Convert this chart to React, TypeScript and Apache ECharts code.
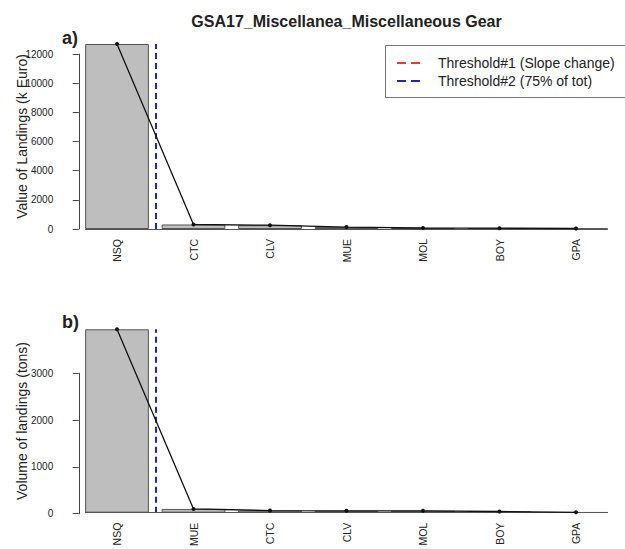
import React, { useEffect, useRef } from "react";
import * as echarts from "echarts";

const titleText = "GSA17_Miscellanea_Miscellaneous Gear";
const catsA = ["NSQ", "CTC", "CLV", "MUE", "MOL", "BOY", "GPA"];
const valsA = [12700, 310, 260, 130, 70, 55, 35];
const catsB = ["NSQ", "MUE", "CTC", "CLV", "MOL", "BOY", "GPA"];
const valsB = [3940, 80, 45, 40, 40, 25, 8];
const yTickStepA = 2000;
const yTickTopA = 12000;
const yTickStepB = 1000;
const yTickTopB = 3000;
// number of species reaching 75% of total (threshold #2 drawn after them)
const thr2CountA = 1;
const thr2CountB = 1;
const nameA = "Value of Landings (k Euro)";
const nameB = "Volume of landings (tons)";
const legendNames = ["Threshold#1 (Slope change)", "Threshold#2 (75% of tot)"];

const FONT = "'Liberation Sans', Arial, Helvetica, sans-serif";
const TXT = "#222";
const RED = "#e03c3c";
const BLUE = "#2424b8";

export default function App() {
  const ref = useRef<HTMLDivElement>(null);
  useEffect(() => {
    if (!ref.current) return;
    const chart = echarts.init(ref.current, null, { renderer: "svg" });
    const gridLeft = 78.75;
    const gridRight = 10.75;
    const topA = 44, hA = 185;
    const topB = 329.3, hB = 184.4;
    const maxA = Math.max(...valsA);
    const maxB = Math.max(...valsB);
    const axTopA = topA + hA * (1 - yTickTopA / maxA);
    const axTopB = topB + hB * (1 - yTickTopB / maxB);
    const barFrac = 1 / 1.2; // R barplot space = 0.2
    const half = barFrac / 2;
    const n = catsA.length;

    const catAxis = (gi: number, cats: string[]) => ({
      type: "category",
      gridIndex: gi,
      data: cats,
      boundaryGap: true,
      axisLine: { show: false },
      axisTick: { show: false },
      axisLabel: { rotate: 90, margin: 10, fontSize: 10.5, color: TXT, fontFamily: FONT },
    });
    const valXAxis = (gi: number) => ({
      type: "value",
      gridIndex: gi,
      min: -0.5,
      max: n - 0.5,
      show: false,
    });
    const mainY = (gi: number, max: number, name: string) => ({
      type: "value",
      gridIndex: gi,
      min: 0,
      max,
      name,
      nameLocation: "middle",
      nameGap: 50,
      nameRotate: 90,
      nameTextStyle: { fontSize: 14, color: TXT, fontFamily: FONT },
      axisLine: { show: false },
      axisTick: { show: false },
      axisLabel: { show: false },
      splitLine: { show: false },
    });
    const visY = (gi: number, max: number, step: number) => ({
      type: "value",
      gridIndex: gi,
      min: 0,
      max,
      interval: step,
      offset: 17.5,
      axisLine: { show: true, lineStyle: { color: "#444", width: 1 } },
      axisTick: { show: true, length: 6, lineStyle: { color: "#444" } },
      axisLabel: {
        margin: 8,
        fontSize: 10,
        color: TXT,
        fontFamily: FONT,
        formatter: (v: number) => String(v),
      },
      splitLine: { show: false },
    });

    const markers = (count: number) => ({
      silent: true,
      symbol: "none",
      label: { show: false },
      data: [
        { xAxis: count - 0.5, lineStyle: { color: BLUE, type: [6, 4], width: 2 } },
        [
          { coord: [-half, 0], lineStyle: { color: "#555", type: "solid", width: 1 } },
          { coord: [n - 1 + half, 0] },
        ],
      ],
    });

    const barSeries = (xi: number, yi: number, vals: number[]) => ({
      type: "bar",
      xAxisIndex: xi,
      yAxisIndex: yi,
      data: vals,
      barCategoryGap: ((1 - barFrac) * 100).toFixed(3) + "%",
      itemStyle: { color: "#bebebe", borderColor: "#555", borderWidth: 1 },
      silent: true,
    });
    const lineSeries = (xi: number, yi: number, vals: number[]) => ({
      type: "line",
      xAxisIndex: xi,
      yAxisIndex: yi,
      data: vals,
      symbol: "circle",
      symbolSize: 4,
      lineStyle: { color: "#111", width: 1.3 },
      itemStyle: { color: "#111" },
      z: 5,
      silent: true,
    });

    chart.setOption({
      animation: false,
      backgroundColor: "#fff",
      textStyle: { fontFamily: FONT },
      grid: [
        { left: gridLeft, right: gridRight, top: topA, height: hA },
        { left: gridLeft, right: gridRight, top: topB, height: hB },
        { left: gridLeft, right: gridRight, top: axTopA, height: topA + hA - axTopA },
        { left: gridLeft, right: gridRight, top: axTopB, height: topB + hB - axTopB },
      ],
      xAxis: [
        catAxis(0, catsA),
        valXAxis(0),
        catAxis(1, catsB),
        valXAxis(1),
        { type: "value", gridIndex: 2, min: 0, max: 1, show: false },
        { type: "value", gridIndex: 3, min: 0, max: 1, show: false },
      ],
      yAxis: [
        mainY(0, maxA, nameA),
        mainY(1, maxB, nameB),
        visY(2, yTickTopA, yTickStepA),
        visY(3, yTickTopB, yTickStepB),
      ],
      series: [
        barSeries(0, 0, valsA),
        lineSeries(0, 0, valsA),
        { type: "line", xAxisIndex: 1, yAxisIndex: 0, data: [], markLine: markers(thr2CountA) },
        barSeries(2, 1, valsB),
        lineSeries(2, 1, valsB),
        { type: "line", xAxisIndex: 3, yAxisIndex: 1, data: [], markLine: markers(thr2CountB) },
      ],
      graphic: [
        {
          type: "text",
          x: gridLeft + (625 - gridLeft - gridRight) / 2,
          y: 21,
          style: { text: titleText, font: `bold 16px ${FONT}`, fill: TXT, textAlign: "center", textVerticalAlign: "middle" },
        },
        { type: "text", x: 62, y: 38, style: { text: "a)", font: `bold 18px ${FONT}`, fill: TXT, textVerticalAlign: "middle" } },
        { type: "text", x: 62, y: 321.5, style: { text: "b)", font: `bold 18px ${FONT}`, fill: TXT, textVerticalAlign: "middle" } },
        {
          type: "rect",
          shape: { x: 385.5, y: 45.5, width: 260, height: 52 },
          style: { fill: "#fff", stroke: "#777", lineWidth: 1 },
          z: 10,
        },
        {
          type: "line",
          shape: { x1: 397, y1: 63, x2: 421, y2: 63 },
          style: { stroke: RED, lineWidth: 2, lineDash: [9, 5] },
          z: 11,
        },
        {
          type: "line",
          shape: { x1: 397, y1: 81, x2: 421, y2: 81 },
          style: { stroke: BLUE, lineWidth: 2, lineDash: [9, 5] },
          z: 11,
        },
        {
          type: "text",
          x: 438,
          y: 63,
          style: { text: legendNames[0], font: `14px ${FONT}`, fill: TXT, textVerticalAlign: "middle" },
          z: 11,
        },
        {
          type: "text",
          x: 438,
          y: 81,
          style: { text: legendNames[1], font: `14px ${FONT}`, fill: TXT, textVerticalAlign: "middle" },
          z: 11,
        },
      ],
    });
    return () => chart.dispose();
  }, []);
  return (
    <div
      ref={ref}
      style={{ position: "fixed", left: 0, top: 0, width: 625, height: 549, background: "#fff" }}
    />
  );
}
